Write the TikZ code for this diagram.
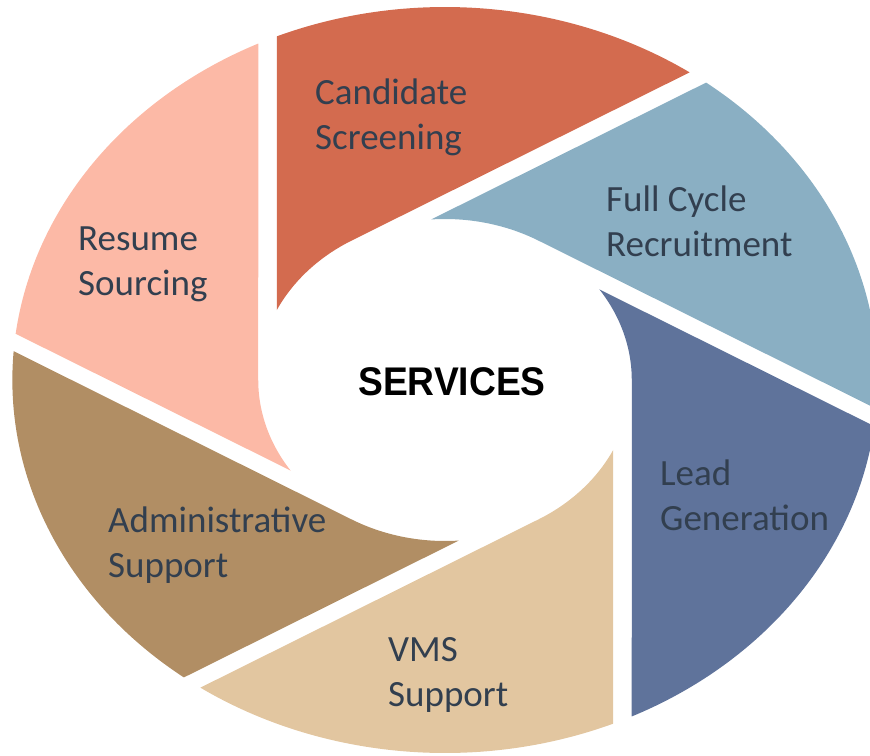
\documentclass[tikz,border=0pt]{standalone}
\usepackage{fontspec}
\setmainfont{Carlito}
\newfontfamily\headfont{Liberation Sans}
\usepackage{xcolor}

\definecolor{resumepink}{HTML}{FCB9A6}
\definecolor{screenorange}{HTML}{D36B4F}
\definecolor{cycleblue}{HTML}{8AAFC3}
\definecolor{leadblue}{HTML}{5F739B}
\definecolor{vmstan}{HTML}{E2C6A0}
\definecolor{adminbrown}{HTML}{B18E64}
\definecolor{labeltext}{HTML}{323F4F}

\tikzset{
  bladelabel/.style={anchor=north west, inner sep=0pt, align=left,
    text=labeltext, font=\fontsize{37}{45}\selectfont},
}

\begin{document}
\begin{tikzpicture}[x=1pt,y=1pt]
            \useasboundingbox (0,0) rectangle (870,-755);
            \clip (0,0) rectangle (870,-755);
            % six blades round the hole
            \begin{scope}[shift={(445,-380)}, xscale=1.16]
                \foreach \t/\c in {180/resumepink, 120/screenorange, 60/cycleblue,
                                   0/leadblue, 300/vmstan, 240/adminbrown}
                    \fill[\c] ({\t-64.43}:373) -- (\t:161)
                        arc[start angle=\t, end angle=\t+34.23, radius=161]
                        -- ({\t-7.12}:373)
                        arc[start angle=\t-7.12, end angle=\t-64.43, radius=373] -- cycle;
            \end{scope}
            \node [bladelabel] (screen) at (315,-79) {Candidate\\Screening};
            \node [bladelabel] (cycle) at (606,-186) {Full Cycle\\Recruitment};
            \node [bladelabel] (resume) at (78,-227) {Resume\\Sourcing};
            \node [bladelabel] (lead) at (660,-460) {Lead\\Generation};
            \node [bladelabel] (admin) at (108,-507) {Administrative\\Support};
            \node [bladelabel] (vms) at (388,-637) {VMS\\Support};
            \node [inner sep=0pt, xscale=0.93, font=\headfont\bfseries\fontsize{40}{48}\selectfont] (services) at (452,-382) {SERVICES};
\end{tikzpicture}
\end{document}
